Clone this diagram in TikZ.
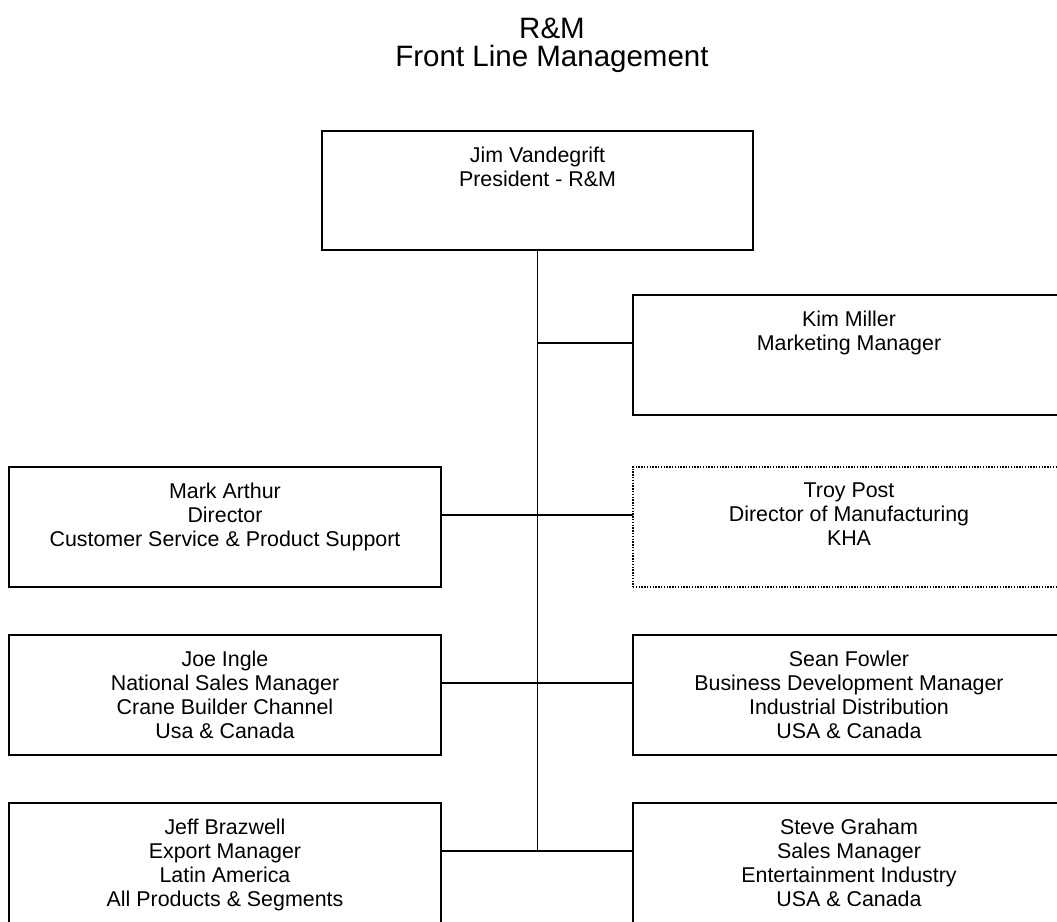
\documentclass[tikz,border=0pt]{standalone}
\usepackage{fontspec}
\setmainfont{Liberation Sans}
\usetikzlibrary{positioning}

\tikzset{
  post/.style={draw, line width=1.6pt, minimum width=432pt, minimum height=120pt, inner sep=0pt, outer sep=0pt, anchor=north west},
  dottedpost/.style={post, line width=1.3pt, dash pattern=on 1.4pt off 1.4pt},
  postname/.style={align=center, anchor=north, inner sep=0pt, font=\fontsize{21.4}{24}\selectfont, yshift=-15.5pt},
  heading/.style={align=center, anchor=north, inner sep=0pt, font=\fontsize{29.5}{28.5}\selectfont},
  tie/.style={line width=1.7pt}
}

\begin{document}
\begin{tikzpicture}[x=1pt,y=-1pt]
\useasboundingbox (0,0) rectangle (1057,921);
\clip (0,0) rectangle (1057,921);

\node[heading] (head) at (552,17.5) {R\&M\\Front Line Management};

% president and the trunk
\node[post, minimum width=431pt, minimum height=119pt] (pres) at (322,131) {};
\node[postname] (presname) at (pres.north) {Jim Vandegrift\\President - R\&M};

\node[post] (kim) at (633,295) {};
\node[postname] (kimname) at (kim.north) {Kim Miller\\Marketing Manager};

\node[post] (mark) at (9,467) {};
\node[postname] (markname) at (mark.north) {Mark Arthur\\Director\\Customer Service \& Product Support};
\node[dottedpost, right=192pt of mark] (troy) {};
\node[postname] (troyname) at (troy.north) {Troy Post\\Director of Manufacturing\\KHA};

\node[post, below=48pt of mark] (joe) {};
\node[postname] (joename) at (joe.north) {Joe Ingle\\National Sales Manager\\Crane Builder Channel\\Usa \& Canada};
\node[post, right=192pt of joe] (sean) {};
\node[postname] (seanname) at (sean.north) {Sean Fowler\\Business Development Manager\\Industrial Distribution\\USA \& Canada};

\node[post, below=48pt of joe] (jeff) {};
\node[postname] (jeffname) at (jeff.north) {Jeff Brazwell\\Export Manager\\Latin America\\All Products \& Segments};
\node[post, right=192pt of jeff] (steve) {};
\node[postname] (stevename) at (steve.north) {Steve Graham\\Sales Manager\\Entertainment Industry\\USA \& Canada};

% connectors
\draw[tie] (pres.south) -- ([yshift=-48pt]pres.south |- jeff.north);
\draw[tie] ([yshift=-48pt]pres.south |- kim.north) -- ([yshift=-48pt]kim.north west);
\draw[tie] ([yshift=-48pt]mark.north east) -- ([yshift=-48pt]troy.north west);
\draw[tie] ([yshift=-48pt]joe.north east) -- ([yshift=-48pt]sean.north west);
\draw[tie] ([yshift=-48pt]jeff.north east) -- ([yshift=-48pt]steve.north west);
\end{tikzpicture}
\end{document}
